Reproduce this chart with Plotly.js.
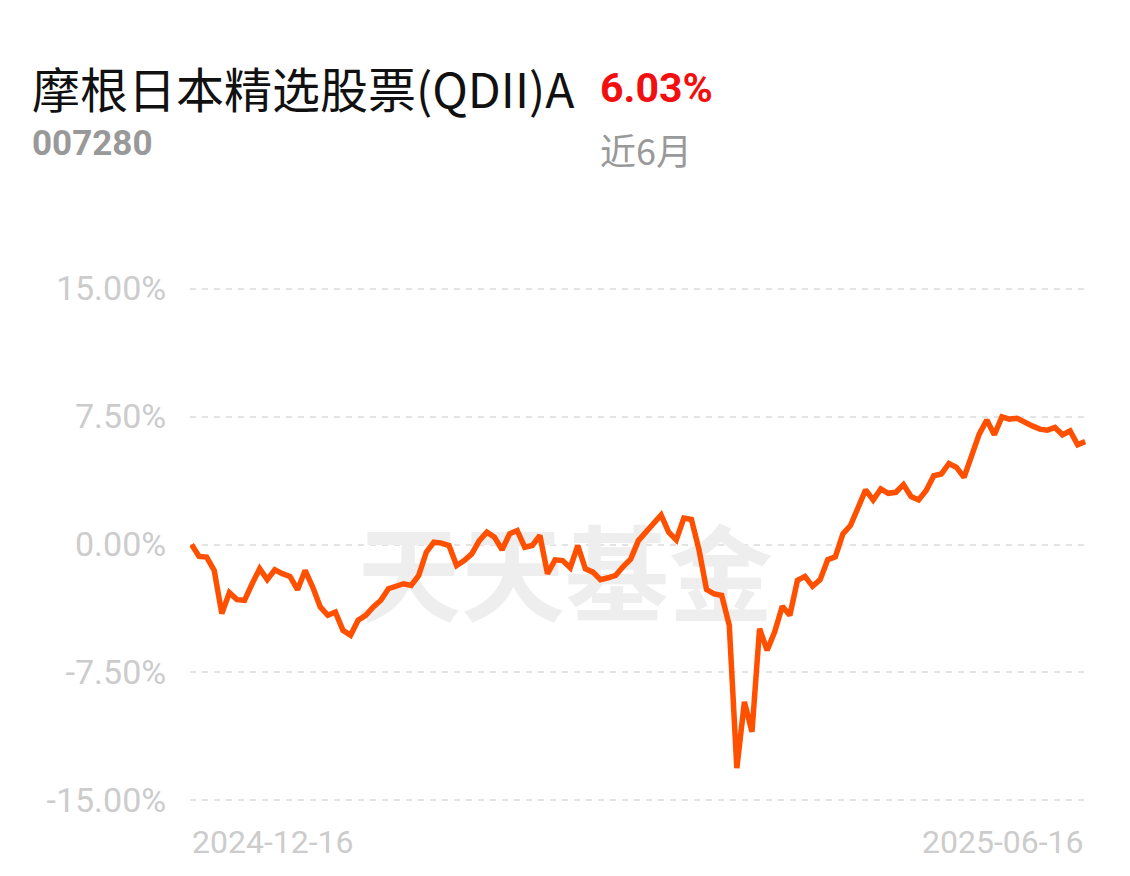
<!DOCTYPE html>
<html>
<head>
<meta charset="utf-8">
<script src="https://cdn.plot.ly/plotly-3.0.1.min.js"></script>
<style>
html,body{margin:0;padding:0;background:#fff;}
#chart{width:1130px;height:876px;}
</style>
</head>
<body>
<div id="chart"></div>
<script>
// Cumulative return (%) over the last 6 months, one value per trading day
const returns = [
  0.00, -0.70, -0.74, -1.52, -4.05, -2.82, -3.23, -3.27, -2.30, -1.42,
  -2.06, -1.48, -1.71, -1.87, -2.65, -1.52, -2.49, -3.66, -4.15, -3.96,
  -5.03, -5.32, -4.44, -4.15, -3.66, -3.27, -2.59, -2.45, -2.30, -2.40,
  -1.81, -0.45, 0.13, 0.08, -0.06, -1.23, -0.94, -0.55, 0.23, 0.72,
  0.43, -0.31, 0.63, 0.82, -0.16, -0.06, 0.53, -1.71, -0.90, -0.94,
  -1.36, -0.06, -1.42, -1.62, -2.06, -1.95, -1.81, -1.29, -0.84, 0.23,
  0.72, 1.30, 1.73, 0.72, 0.27, 1.55, 1.47, -0.30, -2.64, -2.90,
  -2.98, -4.73, -13.11, -9.22, -10.97, -4.93, -6.20, -5.12, -3.62, -4.15,
  -2.10, -1.87, -2.45, -2.06, -0.89, -0.72, 0.62, 1.11, 2.09, 3.20,
  2.61, 3.26, 3.00, 3.06, 3.51, 2.81, 2.61, 3.16, 4.03, 4.13,
  4.75, 4.52, 3.93, 5.20, 6.47, 7.29, 6.43, 7.48, 7.35, 7.40,
  7.15, 6.95, 6.76, 6.70, 6.86, 6.43, 6.66, 5.84, 6.03
];
const startDate = "2024-12-16";
const endDate = "2025-06-16";
const yTickVals = [-15, -7.5, 0, 7.5, 15];
const yTickText = ["-15.00%", "-7.50%", "0.00%", "7.50%", "15.00%"];
const fundName = "摩根日本精选股票(QDII)A";
const fundCode = "007280";
const periodReturn = "6.03%";
const periodLabel = "近6月";
const watermark = "天天基金";

const idx = returns.map((_, i) => i);
const n = returns.length - 1;

const traces = [
  {
    x: [n * 0.418], y: [-2.57],
    mode: "text", text: [watermark],
    textfont: {family: "Noto Sans CJK SC", size: 104, color: "#eeeeee", weight: 700},
    hoverinfo: "skip", showlegend: false
  },
  {
    x: idx, y: returns,
    mode: "lines",
    line: {color: "#ff5000", width: 5.5, shape: "linear"},
    hoverinfo: "skip", showlegend: false
  }
];

const L = 190, R = 44, T = 279.5, B = 66.5;
const W = 1130 - L - R, H = 876 - T - B;
const px = v => (v - L) / W;
const py = v => (876 - B - v) / H;

const layout = {
  width: 1130, height: 876,
  paper_bgcolor: "#fff", plot_bgcolor: "#fff",
  margin: {l: L, r: R, t: T, b: B},
  showlegend: false,
  xaxis: {
    range: [-0.2, n + 0.1],
    showgrid: false, zeroline: false, showline: false,
    showticklabels: false, ticks: ""
  },
  yaxis: {
    range: [-15.5, 15.5],
    tickvals: yTickVals, ticktext: yTickText,
    showgrid: true, gridcolor: "#e3e3e3", gridwidth: 2, griddash: "6px,6px",
    zeroline: false, showline: false,
    ticks: "outside", ticklen: 16, tickcolor: "rgba(0,0,0,0)",
    tickfont: {family: "Roboto", size: 34, color: "#cccccc"}
  },
  annotations: [
    {xref: "paper", yref: "paper", x: px(30), y: py(86), xanchor: "left", yanchor: "middle",
     text: fundName, showarrow: false,
     font: {family: "Noto Sans CJK SC", size: 48, color: "#111"}},
    {xref: "paper", yref: "paper", x: px(598), y: py(87), xanchor: "left", yanchor: "middle",
     text: "<b>" + periodReturn + "</b>", showarrow: false,
     font: {family: "Roboto", size: 41, color: "#f20f0f"}},
    {xref: "paper", yref: "paper", x: px(30), y: py(143), xanchor: "left", yanchor: "middle",
     text: "<b>" + fundCode + "</b>", showarrow: false,
     font: {family: "Roboto", size: 35, color: "#999999"}},
    {xref: "paper", yref: "paper", x: px(598), y: py(148), xanchor: "left", yanchor: "middle",
     text: periodLabel, showarrow: false,
     font: {family: "Noto Sans CJK SC", size: 36, color: "#999999"}},
    {xref: "paper", yref: "paper", x: px(190), y: py(843), xanchor: "left", yanchor: "middle",
     text: startDate, showarrow: false,
     font: {family: "Roboto", size: 32, color: "#cccccc"}},
    {xref: "paper", yref: "paper", x: px(1086), y: py(843), xanchor: "right", yanchor: "middle",
     text: endDate, showarrow: false,
     font: {family: "Roboto", size: 32, color: "#cccccc"}}
  ]
};

Plotly.newPlot("chart", traces, layout, {staticPlot: true, displayModeBar: false});
</script>
</body>
</html>
